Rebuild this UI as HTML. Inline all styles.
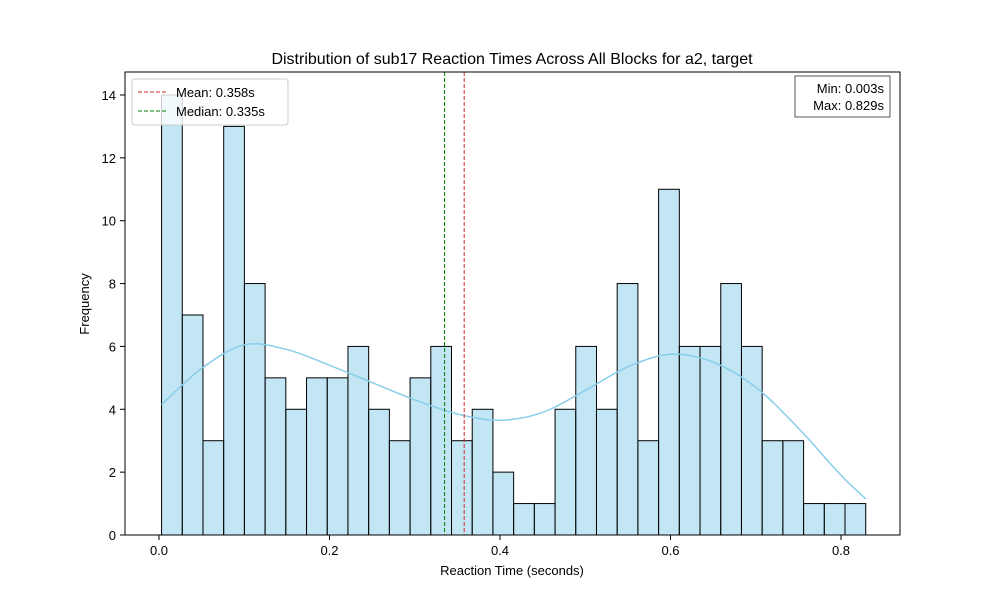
<!DOCTYPE html>
<html><head><meta charset="utf-8"><style>
body{margin:0;background:#fff}
svg text{font-family:"Liberation Sans","DejaVu Sans",sans-serif;fill:#000}
</style></head><body>
<svg id="c" width="1000" height="600" xmlns="http://www.w3.org/2000/svg">
<rect width="1000" height="600" fill="#fff"/>
<g id="bars"></g>
<path id="kde" fill="none" stroke="#87ceeb" stroke-width="1.5"/>
<line id="meanline" y1="72" y2="535" stroke="#d62728" stroke-width="1" stroke-dasharray="4,2"/>
<line id="medline" y1="72" y2="535" stroke="#008000" stroke-width="1" stroke-dasharray="4,2"/>
<rect x="125" y="72" width="775" height="463" fill="none" stroke="#000" stroke-width="1"/>
<g id="axes"></g>
<text x="512" y="64" font-size="16" text-anchor="middle">Distribution of sub17 Reaction Times Across All Blocks for a2, target</text>
<text x="512" y="575" font-size="13" text-anchor="middle">Reaction Time (seconds)</text>
<text transform="translate(89,304) rotate(-90)" font-size="13" text-anchor="middle">Frequency</text>
<g>
<rect x="132" y="79" width="156" height="46" rx="3" fill="#fff" fill-opacity="0.8" stroke="#ccc"/>
<line x1="138" y1="92" x2="166" y2="92" stroke="#d62728" stroke-dasharray="4,2"/>
<text x="176" y="97" font-size="13">Mean: 0.358s</text>
<line x1="138" y1="111" x2="166" y2="111" stroke="#008000" stroke-dasharray="4,2"/>
<text x="176" y="116" font-size="13">Median: 0.335s</text>
</g>
<g>
<rect x="795" y="76" width="95" height="41" fill="#fff" stroke="#555"/>
<text x="884" y="93" font-size="13" text-anchor="end">Min: 0.003s</text>
<text x="884" y="110" font-size="13" text-anchor="end">Max: 0.829s</text>
</g>
</svg>
<script>
const counts=[14,7,3,13,8,5,4,5,5,6,4,3,5,6,3,4,2,1,1,4,6,4,8,3,11,6,6,8,6,3,3,1,1,1];
const binMin=0.003, binMax=0.829;
const kdeX=[0.003,0.05,0.1,0.15,0.2,0.25,0.3,0.35,0.4,0.45,0.5,0.55,0.6,0.65,0.7,0.75,0.8,0.829];
const kdeY=[4.15,5.3,6.05,5.9,5.4,4.85,4.3,3.85,3.65,3.9,4.6,5.35,5.75,5.5,4.7,3.4,1.9,1.15];
const meanVal=0.358, medianVal=0.335;
const xTicks=[0,0.2,0.4,0.6,0.8];
const yTicks=[0,2,4,6,8,10,12,14];
const NS="http://www.w3.org/2000/svg";
const X=v=>159+v*852.5, Y=v=>535-v*31.43;
const bars=document.getElementById('bars');
const w=(binMax-binMin)/counts.length;
counts.forEach((c,i)=>{
 const r=document.createElementNS(NS,'rect');
 
 
 const x0=X(binMin+i*w),x1=X(binMin+(i+1)*w);
 r.setAttribute('x',x0);r.setAttribute('width',x1-x0);
 r.setAttribute('y',Y(c));r.setAttribute('height',Y(0)-Y(c));
 r.setAttribute('fill','#87ceeb');r.setAttribute('fill-opacity','0.5');
 r.setAttribute('stroke','#000');r.setAttribute('stroke-width','1');
 bars.appendChild(r);
});
// smooth curve via Catmull-Rom
let pts=kdeX.map((x,i)=>[X(x),Y(kdeY[i])]);
let d='M'+pts[0].join(',');
for(let i=0;i<pts.length-1;i++){
 const p0=pts[Math.max(0,i-1)],p1=pts[i],p2=pts[i+1],p3=pts[Math.min(pts.length-1,i+2)];
 d+=` C${p1[0]+(p2[0]-p0[0])/6},${p1[1]+(p2[1]-p0[1])/6} ${p2[0]-(p3[0]-p1[0])/6},${p2[1]-(p3[1]-p1[1])/6} ${p2[0]},${p2[1]}`;
}
document.getElementById('kde').setAttribute('d',d);
const ml=document.getElementById('meanline');ml.setAttribute('x1',X(meanVal));ml.setAttribute('x2',X(meanVal));
const dl=document.getElementById('medline');dl.setAttribute('x1',X(medianVal));dl.setAttribute('x2',X(medianVal));
const ax=document.getElementById('axes');
xTicks.forEach(t=>{
 const l=document.createElementNS(NS,'line');
 
 
 l.setAttribute('x1',X(t));l.setAttribute('x2',X(t));l.setAttribute('y1',535);l.setAttribute('y2',540);l.setAttribute('stroke','#000');
 ax.appendChild(l);
 const s=document.createElementNS(NS,'text');
 
 
 s.setAttribute('x',X(t));s.setAttribute('y',555);s.setAttribute('font-size','13');s.setAttribute('text-anchor','middle');
 s.textContent=t.toFixed(1);ax.appendChild(s);
});
yTicks.forEach(t=>{
 const l=document.createElementNS(NS,'line');
 
 
 l.setAttribute('x1',120);l.setAttribute('x2',125);l.setAttribute('y1',Y(t));l.setAttribute('y2',Y(t));l.setAttribute('stroke','#000');
 ax.appendChild(l);
 const s=document.createElementNS(NS,'text');
 
 
 s.setAttribute('x',116);s.setAttribute('y',Y(t)+5);s.setAttribute('font-size','13');s.setAttribute('text-anchor','end');
 s.textContent=t;ax.appendChild(s);
});
</script>
</body></html>
